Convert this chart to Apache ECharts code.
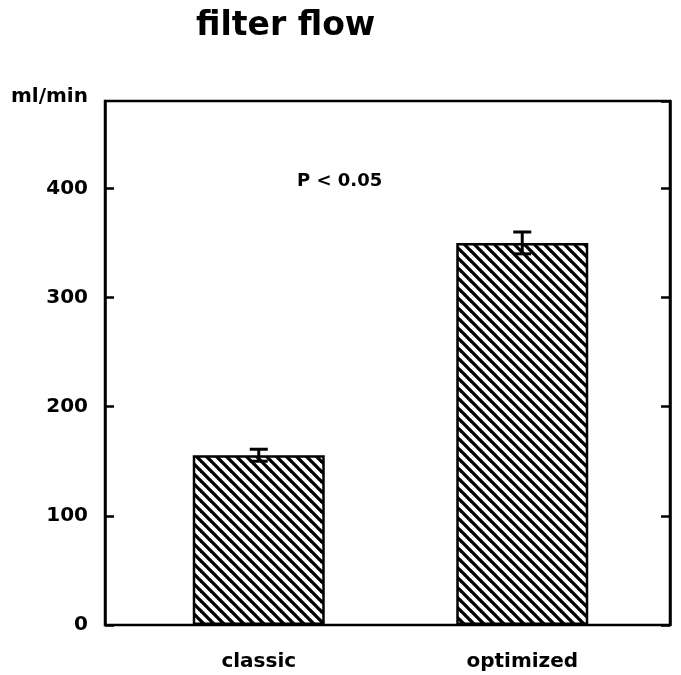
<!DOCTYPE html>
<html>
<head>
<meta charset="utf-8">
<script src="https://cdn.jsdelivr.net/npm/echarts@6/dist/echarts.min.js"></script>
<style>
  html, body { margin: 0; padding: 0; background: #fff; }
  #main { width: 681px; height: 675px; }
</style>
</head>
<body>
<div id="main"></div>
<script>
  var categories = ['classic', 'optimized'];
  var flowMean = [155.5, 350];
  var flowErr = [5.5, 10];
  var yTicks = [0, 100, 200, 300, 400];

  var FONT = 'DejaVu Sans';

  // diagonal hatch tile, lines going "\"
  function makeHatch() {
    var s = 10;
    var c = document.createElement('canvas');
    c.width = s; c.height = s;
    var ctx = c.getContext('2d');
    ctx.fillStyle = '#fff';
    ctx.fillRect(0, 0, s, s);
    ctx.strokeStyle = '#000';
    ctx.lineWidth = 3.3;
    for (var k = -s; k <= s; k += s) {
      ctx.beginPath();
      ctx.moveTo(k - 1, -1);
      ctx.lineTo(k + s + 1, s + 1);
      ctx.stroke();
    }
    return c;
  }

  var errData = [];
  for (var i = 0; i < categories.length; i++) {
    errData.push([i, flowMean[i] - flowErr[i], flowMean[i] + flowErr[i]]);
  }

  var chart = echarts.init(document.getElementById('main'));

  var option = {
    animation: false,
    backgroundColor: '#fff',
    title: {
      text: 'filter flow',
      left: 191,
      top: 5,
      textStyle: { fontFamily: FONT, fontWeight: 'bold', fontSize: 33, color: '#000' }
    },
    graphic: [
      {
        type: 'text', left: 11, top: 87,
        style: { text: 'ml/min', fontFamily: FONT, fontWeight: 'bold', fontSize: 20, fill: '#000' }
      },
      {
        type: 'text', left: 297, top: 172,
        style: { text: 'P < 0.05', fontFamily: FONT, fontWeight: 'bold', fontSize: 18, fill: '#000' }
      }
    ],
    grid: [
      { left: 105, right: 11, top: 101, bottom: 50, show: true, borderColor: '#000', borderWidth: 2.5 },
      { left: 127, right: 27, top: 101, bottom: 50 }
    ],
    xAxis: [
      { gridIndex: 0, type: 'value', min: 0, max: 1, show: false },
      {
        gridIndex: 1, type: 'category', data: categories,
        axisLine: { show: false }, axisTick: { show: false },
        axisLabel: { margin: 27, fontFamily: FONT, fontWeight: 'bold', fontSize: 20, color: '#000' }
      }
    ],
    yAxis: [
      {
        gridIndex: 0, type: 'value', min: 0, max: 480, interval: 100, position: 'left',
        splitLine: { show: false },
        axisLine: { show: true, lineStyle: { color: '#000', width: 2.5 } },
        axisTick: { inside: true, length: 9, lineStyle: { color: '#000', width: 2.5 } },
        axisLabel: {
          margin: 17, showMaxLabel: false, fontFamily: FONT, fontWeight: 'bold', fontSize: 20, color: '#000',
          formatter: function (v) { return yTicks.indexOf(v) >= 0 ? String(v) : ''; }
        }
      },
      {
        gridIndex: 0, type: 'value', min: 0, max: 480, interval: 100, position: 'right',
        splitLine: { show: false },
        axisLine: { show: true, lineStyle: { color: '#000', width: 2.5 } },
        axisTick: { inside: true, length: 9, lineStyle: { color: '#000', width: 2.5 } },
        axisLabel: { show: false }
      },
      { gridIndex: 1, type: 'value', min: 0, max: 480, show: false }
    ],
    series: [
      {
        type: 'bar',
        xAxisIndex: 1,
        yAxisIndex: 2,
        data: flowMean,
        barWidth: 132,
        itemStyle: {
          color: { image: makeHatch(), repeat: 'repeat' },
          borderColor: '#000',
          borderWidth: 2.5
        },
        z: 2
      },
      {
        type: 'custom',
        xAxisIndex: 1,
        yAxisIndex: 2,
        data: errData,
        z: 5,
        renderItem: function (params, api) {
          var lo = api.coord([api.value(0), api.value(1)]);
          var hi = api.coord([api.value(0), api.value(2)]);
          var half = 9;
          var st = { stroke: '#000', lineWidth: 3 };
          return {
            type: 'group',
            children: [
              { type: 'line', shape: { x1: hi[0], y1: hi[1], x2: lo[0], y2: lo[1] }, style: st },
              { type: 'line', shape: { x1: hi[0] - half, y1: hi[1], x2: hi[0] + half, y2: hi[1] }, style: st },
              { type: 'line', shape: { x1: lo[0] - half, y1: lo[1], x2: lo[0] + half, y2: lo[1] }, style: st }
            ]
          };
        }
      }
    ]
  };

  chart.setOption(option);
</script>
</body>
</html>
